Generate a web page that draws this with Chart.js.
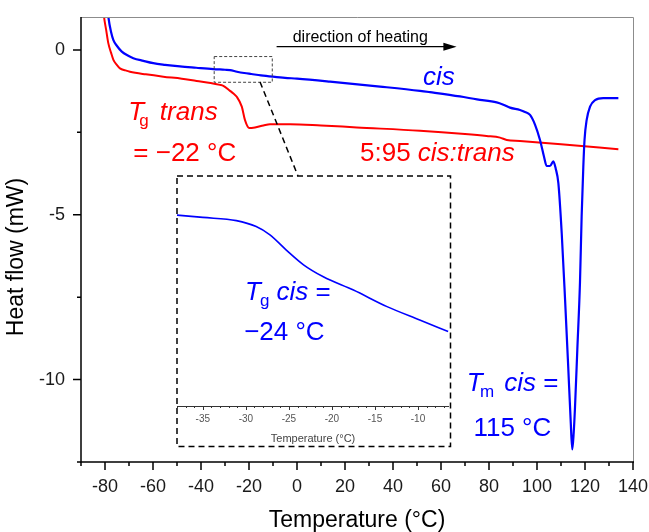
<!DOCTYPE html>
<html><head><meta charset="utf-8">
<script src="https://cdn.jsdelivr.net/npm/chart.js@4"></script>
<style>
html,body{margin:0;padding:0;background:#fff;}
#wrap{position:relative;width:649px;height:532px;overflow:hidden;}
#main{position:absolute;left:0;top:0;}
#inset{position:absolute;left:176px;top:175px;}
</style></head><body>
<div id="wrap"><canvas id="main" width="649" height="532"></canvas><canvas id="inset" width="276" height="273"></canvas></div>
<script>
// ---- data ----
const cisT  = [-79.5,-78.6,-77.5,-76.5,-75,-73,-70.5,-68.2,-64,-59.9,-55,-48.75,-42,-34.9,-30,-27.9,-25,-22,-19,-15,-10,-5,0,13.75,34.6,51.25,55.4,67.9,75,83.2,86,88.75,92.9,95,97.1,99.2,101.25,102.9,104.0,105.4,106.8,107.8,108.9,110.3,111.7,113.0,114.0,114.7,115.3,115.8,116.8,117.9,118.6,119.3,119.8,120.7,122.1,124.2,127.6,133.9];
const cisHF = [1.6,1.0,0.55,0.30,0.12,-0.05,-0.17,-0.25,-0.33,-0.40,-0.45,-0.50,-0.54,-0.58,-0.60,-0.61,-0.66,-0.70,-0.73,-0.77,-0.81,-0.845,-0.87,-0.96,-1.11,-1.24,-1.28,-1.41,-1.50,-1.59,-1.66,-1.75,-1.82,-1.88,-1.97,-2.27,-2.73,-3.23,-3.52,-3.52,-3.38,-3.6,-4.04,-5.56,-7.58,-9.6,-11.2,-12.12,-11.6,-10.9,-9.09,-7.07,-5.05,-3.54,-2.73,-2.12,-1.72,-1.52,-1.46,-1.46];
const transT  = [-81.2,-80.4,-79.5,-78.6,-77.5,-76.5,-75,-73.75,-71.5,-69.6,-63,-55.7,-48,-41.8,-36,-32.1,-30.7,-27.9,-26.5,-25.1,-23.0,-21.7,-19.9,-17.5,-14,-11.25,-2.9,10,24.9,51.25,70,79,84.6,87.4,92.9,110,133.9];
const transHF = [1.6,1.0,0.6,0.2,-0.08,-0.30,-0.46,-0.56,-0.62,-0.66,-0.74,-0.81,-0.87,-0.94,-1.00,-1.06,-1.09,-1.24,-1.32,-1.42,-1.72,-2.12,-2.37,-2.35,-2.29,-2.25,-2.25,-2.29,-2.35,-2.45,-2.55,-2.61,-2.66,-2.73,-2.76,-2.86,-3.01];
const insetT  = [-38,-35,-31.1,-28.8,-27.2,-25.3,-23.3,-21.0,-17.5,-13.6,-9.8,-6.5];
const insetHF = [-0.585,-0.590,-0.597,-0.610,-0.628,-0.661,-0.693,-0.719,-0.748,-0.784,-0.813,-0.838];
const xMain = {min:-90, max:140, step:10, labelEvery:20};
const yMain = {min:-12.5, max:1, step:2.5, labelEvery:5};
const xInset = {min:-38, max:-6.4, step:1, labelEvery:5};
const yInset = {min:-1.0, max:-0.5};

const FONT = '"Liberation Sans", Arial, Helvetica, sans-serif';
const BLUE = '#0000ff', RED = '#ff0000';
const isMult = (v, m) => Math.abs(v/m - Math.round(v/m)) < 1e-6;
const pts = (xs, ys) => xs.map((x,i)=>({x, y: ys[i]}));

function drawRich(ctx, x, y, parts, color){
  let cx = x;
  ctx.fillStyle = color; ctx.textBaseline = 'alphabetic'; ctx.textAlign = 'left';
  for (const p of parts){
    ctx.font = (p.i ? 'italic ' : '') + (p.s || 26) + 'px ' + FONT;
    ctx.fillText(p.t, cx, y + (p.dy || 0));
    cx += ctx.measureText(p.t).width + (p.dx || 0);
  }
}

const mainDeco = {
  id: 'mainDeco',
  afterDatasetsDraw(chart){
    const ctx = chart.ctx, a = chart.chartArea, xs = chart.scales.x, ys = chart.scales.y;
    const X = v => xs.getPixelForValue(v), Y = v => ys.getPixelForValue(v);
    ctx.save();
    // annotations
    drawRich(ctx, X(-70.3), Y(-2.12), [{t:'T', i:true, dx:-5},{t:'g', s:17, dy:6, dx:4},{t:' trans', i:true}], RED);
    drawRich(ctx, X(-68.2), Y(-3.38), [{t:'= \u221222 \u00B0C'}], RED);
    drawRich(ctx, X(26.25), Y(-3.38), [{t:'5:95 '},{t:'cis:trans', i:true}], RED);
    drawRich(ctx, X(52.5), Y(-1.06), [{t:'cis', i:true}], BLUE);
    drawRich(ctx, X(70.7), Y(-10.35), [{t:'T', i:true, dx:-2.6},{t:'m', s:17, dy:6, dx:3},{t:' cis', i:true},{t:' ='}], BLUE);
    drawRich(ctx, X(73.5), Y(-11.72), [{t:'115 \u00B0C'}], BLUE);
    // direction of heating arrow
    ctx.font = '16px ' + FONT; ctx.fillStyle = '#000';
    ctx.fillText('direction of heating', X(-1.8), Y(0.25));
    ctx.strokeStyle = '#000'; ctx.lineWidth = 1.2;
    ctx.beginPath(); ctx.moveTo(X(-8.5), Y(0.1)); ctx.lineTo(X(62), Y(0.1)); ctx.stroke();
    ctx.beginPath(); ctx.moveTo(X(66.5), Y(0.1)); ctx.lineTo(X(61), Y(0.1)-4); ctx.lineTo(X(61), Y(0.1)+4); ctx.closePath(); ctx.fill();
    // zoom rectangle + connector
    ctx.setLineDash([3,2]); ctx.lineWidth = 1; ctx.strokeStyle = '#444';
    ctx.strokeRect(X(-34.5), Y(-0.2), X(-10.3)-X(-34.5), Y(-0.98)-Y(-0.2));
    ctx.setLineDash([6,4]); ctx.lineWidth = 1.5; ctx.strokeStyle = '#000';
    ctx.beginPath(); ctx.moveTo(X(-15.4), Y(-0.97)); ctx.lineTo(X(0.4), Y(-3.82)); ctx.stroke();
    ctx.restore();
  },
  afterDraw(chart){
    const ctx = chart.ctx, a = chart.chartArea, xs = chart.scales.x, ys = chart.scales.y;
    ctx.save();
    ctx.strokeStyle = '#8c8c8c'; ctx.lineWidth = 1;
    ctx.beginPath(); ctx.moveTo(a.left, a.top+0.5); ctx.lineTo(a.right+0.5, a.top+0.5); ctx.lineTo(a.right+0.5, a.bottom); ctx.stroke();
    ctx.strokeStyle = '#000'; ctx.lineWidth = 1.5;
    ctx.beginPath(); ctx.moveTo(a.left, a.top); ctx.lineTo(a.left, a.bottom); ctx.lineTo(a.right+1, a.bottom); ctx.stroke();
    ctx.beginPath();
    xs.ticks.forEach(t => { const p = xs.getPixelForValue(t.value); const L = isMult(t.value, xMain.labelEvery) ? 8 : 4; ctx.moveTo(p, a.bottom); ctx.lineTo(p, a.bottom+L); });
    ys.ticks.forEach(t => { const p = ys.getPixelForValue(t.value); const L = isMult(t.value, yMain.labelEvery) ? 8 : 4; ctx.moveTo(a.left, p); ctx.lineTo(a.left-L, p); });
    ctx.stroke();
    // y axis title
    ctx.translate(17, 257); ctx.rotate(-Math.PI/2);
    ctx.font = '23px ' + FONT; ctx.fillStyle = '#000'; ctx.textAlign = 'center'; ctx.textBaseline = 'middle';
    ctx.fillText('Heat flow (mW)', 0, 0);
    ctx.restore();
  }
};

new Chart(document.getElementById('main'), {
  type: 'line',
  data: { datasets: [
    { label:'cis', data: pts(cisT, cisHF), borderColor: BLUE, borderWidth: 2.2, pointRadius: 0, cubicInterpolationMode: 'monotone', fill: false },
    { label:'5:95 cis:trans', data: pts(transT, transHF), borderColor: RED, borderWidth: 2, pointRadius: 0, cubicInterpolationMode: 'monotone', fill: false }
  ]},
  options: {
    responsive: false, animation: false, events: [],
    layout: { padding: { top: 17, right: 16, left: 0, bottom: 0 } },
    plugins: { legend: { display: false }, tooltip: { enabled: false } },
    scales: {
      x: { type: 'linear', min: xMain.min, max: xMain.max,
        grid: { display: false }, border: { display: false },
        ticks: { stepSize: xMain.step, includeBounds: false, autoSkip: false, maxRotation: 0, padding: 6,
          color: '#1a1a1a', font: { size: 18, family: FONT },
          callback: v => isMult(v, xMain.labelEvery) ? String(v) : '' },
        title: { display: true, text: 'Temperature (\u00B0C)', color: '#000', font: { size: 23, family: FONT, lineHeight: 1 }, padding: { bottom: 0, top: 0 } },
        afterFit: s => { s.height = 70; s.paddingLeft = 0; s.paddingRight = 0; } },
      y: { type: 'linear', min: yMain.min, max: yMain.max,
        grid: { display: false }, border: { display: false },
        ticks: { stepSize: yMain.step, includeBounds: false, autoSkip: false, padding: 8,
          color: '#1a1a1a', font: { size: 18, family: FONT },
          callback: v => isMult(v, yMain.labelEvery) ? String(v) : '' },
        title: { display: false },
        afterFit: s => { s.width = 81; s.paddingTop = 0; s.paddingBottom = 0; } }
    }
  },
  plugins: [mainDeco]
});

const insetDeco = {
  id: 'insetDeco',
  afterDatasetsDraw(chart){
    const ctx = chart.ctx, xs = chart.scales.x, ys = chart.scales.y;
    const X = v => xs.getPixelForValue(v), Y = v => ys.getPixelForValue(v);
    ctx.save();
    drawRich(ctx, X(-30.1), Y(-0.770), [{t:'T', i:true, dx:-1},{t:'g', s:17, dy:6},{t:' cis', i:true},{t:' ='}], BLUE);
    drawRich(ctx, X(-30.2), Y(-0.857), [{t:'\u221224 \u00B0C'}], BLUE);
    ctx.restore();
  },
  afterDraw(chart){
    const ctx = chart.ctx, a = chart.chartArea, xs = chart.scales.x;
    ctx.save();
    ctx.setLineDash([6,4]); ctx.strokeStyle = '#000'; ctx.lineWidth = 1.5;
    ctx.strokeRect(1, 1, chart.width - 2.5, chart.height - 2.5);
    ctx.setLineDash([]); ctx.lineWidth = 1; ctx.strokeStyle = '#333';
    ctx.beginPath(); ctx.moveTo(a.left, a.bottom+0.5); ctx.lineTo(a.right, a.bottom+0.5);
    xs.ticks.forEach(t => { const p = Math.round(xs.getPixelForValue(t.value))+0.5; const L = isMult(t.value, xInset.labelEvery) ? 4 : 2; ctx.moveTo(p, a.bottom); ctx.lineTo(p, a.bottom+L); });
    ctx.stroke();
    ctx.restore();
  }
};

new Chart(document.getElementById('inset'), {
  type: 'line',
  data: { datasets: [
    { data: pts(insetT, insetHF), borderColor: BLUE, borderWidth: 1.6, pointRadius: 0, cubicInterpolationMode: 'monotone', fill: false }
  ]},
  options: {
    responsive: false, animation: false, events: [],
    layout: { padding: { top: 1, right: 3, left: 1, bottom: 0 } },
    plugins: { legend: { display: false }, tooltip: { enabled: false } },
    scales: {
      x: { type: 'linear', min: xInset.min, max: xInset.max,
        grid: { display: false, drawTicks: false }, border: { display: false },
        ticks: { stepSize: xInset.step, includeBounds: false, autoSkip: false, maxRotation: 0, padding: 7,
          color: '#555', font: { size: 10, family: FONT },
          callback: v => isMult(v, xInset.labelEvery) ? String(v) : '' },
        title: { display: true, text: 'Temperature (\u00B0C)', color: '#444', font: { size: 11, family: FONT, lineHeight: 1 }, padding: { top: 0, bottom: 4 } },
        afterFit: s => { s.height = 42; s.paddingLeft = 0; s.paddingRight = 0; } },
      y: { type: 'linear', min: yInset.min, max: yInset.max, display: false }
    }
  },
  plugins: [insetDeco]
});
</script>
</body></html>
